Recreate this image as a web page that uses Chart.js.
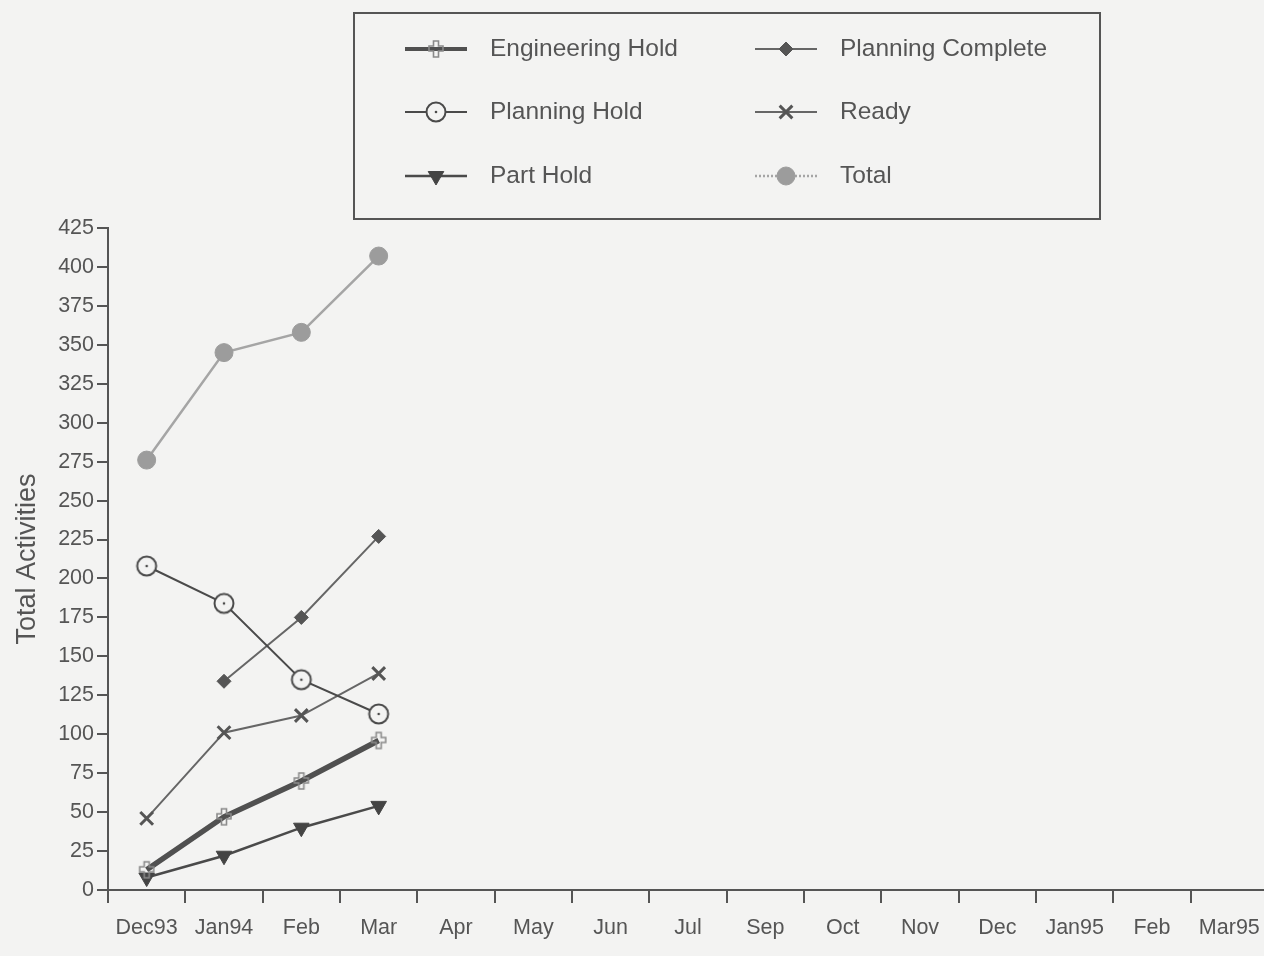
<!DOCTYPE html>
<html>
<head>
<meta charset="utf-8">
<script src="https://cdn.jsdelivr.net/npm/chart.js@4"></script>
<style>
  body { margin: 0; background: #f3f3f2; overflow: hidden; }
  #wrap { width: 1280px; height: 956px; position: relative; }
</style>
</head>
<body>
<div id="wrap"><canvas id="chart"></canvas></div>
<script>
// months on the x axis (the original skips Aug)
const months = ['Dec93', 'Jan94', 'Feb', 'Mar', 'Apr', 'May', 'Jun', 'Jul', 'Sep', 'Oct', 'Nov', 'Dec', 'Jan95', 'Feb', 'Mar95'];

// values
const engHold = [13, 47, 70, 96];
const planHold = [208, 184, 135, 113];
const partHold = [8, 22, 40, 54];
const planComplete = [null, 134, 175, 227];
const ready = [46, 101, 112, 139];
const total = [276, 345, 358, 407];

const ink = '#4a4a4a';
Chart.defaults.font.family = '"Liberation Sans", Arial, Helvetica, sans-serif';
Chart.defaults.color = '#555';

// circle with a dot in the middle
function dotCircle() {
    const cv = document.createElement('canvas');
    cv.width = 24; cv.height = 24;
    const g = cv.getContext('2d');
    g.fillStyle = '#f3f3f2';
    g.strokeStyle = ink;
    g.lineWidth = 2;
    g.beginPath(); g.arc(12, 12, 9.5, 0, Math.PI * 2); g.fill(); g.stroke();
    g.fillStyle = ink;
    g.beginPath(); g.arc(12, 12, 1.3, 0, Math.PI * 2); g.fill();
    return cv;
}

// hollow plus, the engineering hold mark
function hollowPlus() {
    const cv = document.createElement('canvas');
    cv.width = 18; cv.height = 20;
    const g = cv.getContext('2d');
    g.strokeStyle = '#8a8a8a';
    g.lineWidth = 1.6;
    g.beginPath();
    g.moveTo(6.5, 2); g.lineTo(11.5, 2); g.lineTo(11.5, 7); g.lineTo(16, 7);
    g.lineTo(16, 12); g.lineTo(11.5, 12); g.lineTo(11.5, 18); g.lineTo(6.5, 18);
    g.lineTo(6.5, 12); g.lineTo(2, 12); g.lineTo(2, 7); g.lineTo(6.5, 7);
    g.closePath();
    g.stroke();
    return cv;
}

function drawMark(c, ds, x, y) {
    c.save();
    c.fillStyle = ds.pointBackgroundColor;
    c.strokeStyle = ds.pointBorderColor;
    c.lineWidth = ds.pointBorderWidth;
    Chart.helpers.drawPoint(c, {
        pointStyle: ds.pointStyle,
        rotation: ds.pointRotation || 0,
        radius: ds.pointRadius,
        borderWidth: ds.pointBorderWidth
    }, x, y);
    c.restore();
}

// legend drawn in a box at the top, two columns
const boxLegend = {
    id: 'boxLegend',
    afterDraw(chart) {
        const c = chart.ctx;
        c.save();
        c.strokeStyle = '#555';
        c.lineWidth = 2;
        c.strokeRect(354, 13, 746, 206);
        const cols = [436, 786];
        const rows = [49, 112, 176];
        c.font = '24.5px "Liberation Sans", Arial, sans-serif';
        c.textBaseline = 'middle';
        chart.data.datasets.forEach(function (ds, i) {
            const cx = cols[Math.floor(i / 3)];
            const cy = rows[i % 3];
            c.beginPath();
            c.strokeStyle = ds.borderColor;
            c.lineWidth = Math.min(ds.borderWidth, 4);
            c.setLineDash(ds.label === 'Total' ? [2, 2] : []);
            c.moveTo(cx - 31, cy);
            c.lineTo(cx + 31, cy);
            c.stroke();
            c.setLineDash([]);
            drawMark(c, ds, cx, cy);
            c.fillStyle = '#555';
            c.fillText(ds.label, cx + 54, cy);
        });
        c.restore();
    }
};

const ctx = document.getElementById('chart').getContext('2d');
const chart = new Chart(ctx, {
    type: 'line',
    data: {
        labels: months,
        datasets: [
            {
                label: 'Engineering Hold',
                data: engHold,
                borderColor: '#505050',
                borderWidth: 5.5,
                pointStyle: hollowPlus(),
                pointRadius: 8,
                pointBackgroundColor: 'rgba(0,0,0,0)',
                pointBorderColor: '#999',
                pointBorderWidth: 2
            },
            {
                label: 'Planning Hold',
                data: planHold,
                borderColor: ink,
                borderWidth: 2,
                pointStyle: dotCircle(),
                pointRadius: 10,
                pointBackgroundColor: '#f3f3f2',
                pointBorderColor: ink,
                pointBorderWidth: 2
            },
            {
                label: 'Part Hold',
                data: partHold,
                borderColor: ink,
                borderWidth: 2.5,
                pointStyle: 'triangle',
                pointRotation: 180,
                pointRadius: 9,
                pointBackgroundColor: '#444',
                pointBorderColor: '#444',
                pointBorderWidth: 1
            },
            {
                label: 'Planning Complete',
                data: planComplete,
                borderColor: '#666',
                borderWidth: 2,
                pointStyle: 'rectRot',
                pointRadius: 7,
                pointBackgroundColor: '#555',
                pointBorderColor: '#555',
                pointBorderWidth: 1
            },
            {
                label: 'Ready',
                data: ready,
                borderColor: '#666',
                borderWidth: 2,
                pointStyle: 'crossRot',
                pointRadius: 9,
                pointBackgroundColor: '#555',
                pointBorderColor: '#555',
                pointBorderWidth: 3
            },
            {
                label: 'Total',
                data: total,
                borderColor: '#a5a5a5',
                borderWidth: 2.5,
                pointStyle: 'circle',
                pointRadius: 9,
                pointBackgroundColor: '#9c9c9c',
                pointBorderColor: '#9c9c9c',
                pointBorderWidth: 1
            }
        ]
    },
    options: {
        responsive: true,
        maintainAspectRatio: false,
        animation: false,
        layout: { padding: { top: 228, left: 0, right: 0, bottom: 0 } },
        plugins: {
            legend: { display: false },
            tooltip: { enabled: false }
        },
        scales: {
            x: {
                offset: true,
                grid: {
                    offset: true,
                    drawOnChartArea: false,
                    tickLength: 13,
                    color: '#555',
                    lineWidth: 2
                },
                border: { color: '#555', width: 2 },
                ticks: {
                    font: { size: 21.5 },
                    color: '#555',
                    padding: 12,
                    maxRotation: 0,
                    autoSkip: false
                },
                afterFit: function (s) { s.height = 66; }
            },
            y: {
                min: 0,
                max: 425,
                grid: {
                    drawOnChartArea: false,
                    tickLength: 11,
                    color: '#555',
                    lineWidth: 2
                },
                border: { color: '#555', width: 2 },
                ticks: {
                    stepSize: 25,
                    font: { size: 21.5 },
                    color: '#555',
                    padding: 3
                },
                title: {
                    display: true,
                    text: 'Total Activities',
                    font: { size: 27 },
                    color: '#555',
                    padding: { top: 11, bottom: 0 }
                },
                afterFit: function (s) { s.width = 108; }
            }
        }
    },
    plugins: [boxLegend]
});
</script>
</body>
</html>
